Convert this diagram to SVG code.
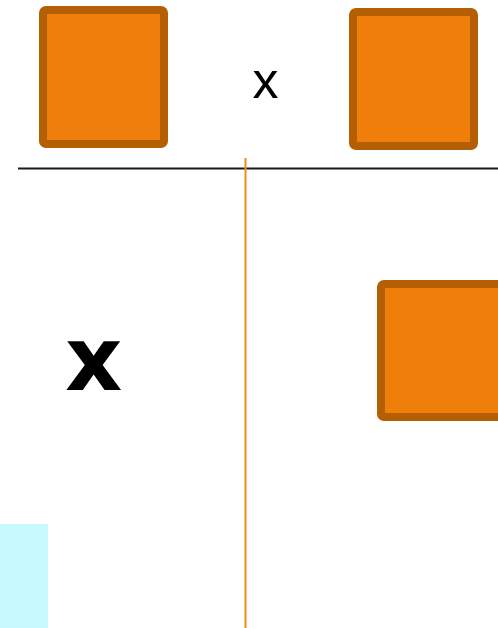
<svg xmlns="http://www.w3.org/2000/svg" width="498" height="628" viewBox="0 0 498 628">
<style>
.box{fill:#ef7f0a;stroke:#b55f05;stroke-width:8}
.t{fill:#000;text-anchor:middle}
</style>
<rect width="498" height="628" fill="#fff"/>
<rect id="cyan" x="0" y="524" width="48" height="104" fill="#c8f9fc"/>
<g id="connectors">
<line x1="18" y1="168.5" x2="498" y2="168.5" stroke="#1a1a1a" stroke-width="2.2"/>
<line x1="245.5" y1="158" x2="245.5" y2="628" stroke="#ef8c1e" stroke-width="2"/>
</g>
<g id="box1"><rect class="box" x="43" y="10" width="121" height="134" rx="3"/></g>
<g id="box2"><rect class="box" x="353" y="12" width="121" height="134" rx="3"/></g>
<g id="box3"><rect class="box" x="381" y="284" width="121" height="133" rx="3"/></g>
<g id="x1"><text class="t" x="265.5" y="98" font-size="52" font-family="'Liberation Sans', Arial, sans-serif">x</text></g>
<g id="x2"><text class="t" x="93.8" y="390" font-size="89" font-weight="bold" font-family="'DejaVu Sans', sans-serif">x</text></g>
</svg>
